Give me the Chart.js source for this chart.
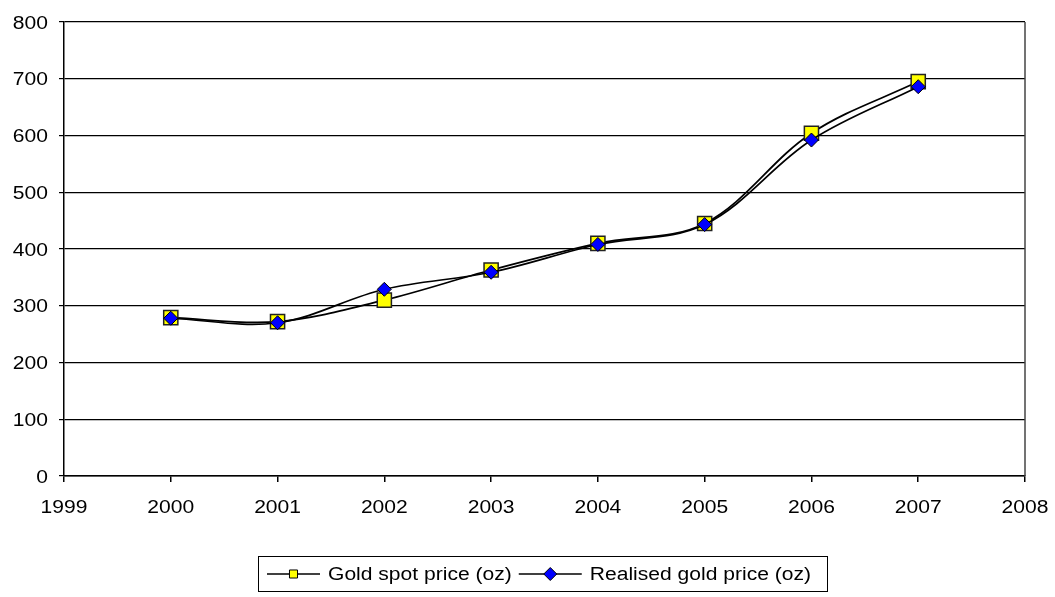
<!DOCTYPE html>
<html>
<head>
<meta charset="utf-8">
<script src="https://cdn.jsdelivr.net/npm/chart.js@4.4.0/dist/chart.umd.min.js"></script>
<style>
  html, body { margin: 0; padding: 0; background: #fff; }
  canvas { display: block; }
</style>
</head>
<body>
<canvas id="gold_Chart" width="1055" height="597"></canvas>
<script>
const years = [2000, 2001, 2002, 2003, 2004, 2005, 2006, 2007];
const spot_price = [279, 272, 310, 363, 410, 445, 604, 695];
const realised_price = [278, 270, 329, 359, 408, 443, 592, 686];
const series_labels = ['Gold spot price (oz)', 'Realised gold price (oz)'];
const x_min = 1999, x_max = 2008;
const y_min = 0, y_max = 800, y_step = 100;

const FONT = '18px "Liberation Sans", Arial, sans-serif';
const STRETCH = 1.17;

function to_points(values){
    return years.map((yr, i) => ({x: yr, y: values[i]}));
}

// labels are set a little wider than the plain face
function wide_text(ctx, text, x, y, align){
    ctx.save();
    ctx.font = FONT;
    ctx.fillStyle = '#000';
    ctx.textBaseline = 'alphabetic';
    ctx.textAlign = 'left';
    const w = ctx.measureText(text).width * STRETCH;
    let left = x;
    if (align === 'right') left = x - w;
    else if (align === 'center') left = x - w / 2;
    ctx.translate(left, y);
    ctx.scale(STRETCH, 1);
    ctx.fillText(text, 0, 0);
    ctx.restore();
    return w;
}

const labels_and_legend = {
    id: 'labels_and_legend',
    afterDraw(chart){
        const ctx = chart.ctx;
        const xs = chart.scales.x, ys = chart.scales.y;
        const area = chart.chartArea;

        ys.ticks.forEach(t => {
            wide_text(ctx, String(t.value), area.left - 16, ys.getPixelForValue(t.value) + 6.5, 'right');
        });
        xs.ticks.forEach(t => {
            wide_text(ctx, String(t.value), xs.getPixelForValue(t.value), area.bottom + 37, 'center');
        });

        // right edge of the plot frame
        ctx.save();
        ctx.strokeStyle = '#444';
        ctx.lineWidth = 1.5;
        ctx.beginPath();
        ctx.moveTo(area.right, area.top);
        ctx.lineTo(area.right, area.bottom);
        ctx.stroke();
        ctx.restore();

        // legend: line with marker, then the series name
        const box_left = 258, box_top = 556, box_bottom = 591;
        const line_y = 574, text_y = 580;
        let x = 267;
        chart.data.datasets.forEach((ds, i) => {
            const line_len = i === 0 ? 53 : 63;
            ctx.save();
            ctx.strokeStyle = '#000';
            ctx.lineWidth = 1.5;
            ctx.beginPath();
            ctx.moveTo(x, line_y);
            ctx.lineTo(x + line_len, line_y);
            ctx.stroke();
            ctx.fillStyle = ds.pointBackgroundColor;
            ctx.strokeStyle = '#000';
            ctx.lineWidth = 1;
            Chart.helpers.drawPoint(ctx, {
                pointStyle: ds.pointStyle,
                radius: ds.pointStyle === 'rect' ? 5.7 : 6.5,
                rotation: 0,
                borderWidth: 1
            }, x + line_len / 2, line_y);
            ctx.restore();
            x += line_len + 8;
            x += wide_text(ctx, ds.label, x, text_y, 'left') + 7;
        });
        ctx.save();
        ctx.strokeStyle = '#000';
        ctx.lineWidth = 1;
        ctx.strokeRect(box_left + 0.5, box_top + 0.5, 827 - box_left, box_bottom - box_top);
        ctx.restore();
    }
};

const gold_chart_canvas = document.querySelector('#gold_Chart');
const gold_chart = new Chart(gold_chart_canvas.getContext('2d'), {
    type: 'line',
    data: {
        datasets: [{
            label: series_labels[0],
            data: to_points(spot_price),
            borderColor: '#000',
            borderWidth: 1.7,
            tension: 0.35,
            pointStyle: 'rect',
            pointRadius: 10,
            pointBackgroundColor: '#ffff00',
            pointBorderColor: '#222',
            pointBorderWidth: 1.5,
            order: 1
        }, {
            label: series_labels[1],
            data: to_points(realised_price),
            borderColor: '#000',
            borderWidth: 1.7,
            tension: 0.35,
            pointStyle: 'rectRot',
            pointRadius: 7,
            pointBackgroundColor: '#0000ff',
            pointBorderColor: '#000',
            pointBorderWidth: 1,
            order: 0
        }]
    },
    options: {
        responsive: false,
        animation: false,
        events: [],
        layout: { padding: { left: 0, right: 30, top: 22, bottom: 0 } },
        plugins: {
            legend: { display: false },
            tooltip: { enabled: false }
        },
        scales: {
            x: {
                type: 'linear',
                min: x_min,
                max: x_max,
                ticks: { stepSize: 1, display: false },
                grid: { drawOnChartArea: false, color: '#000', tickLength: 6, lineWidth: 1.5 },
                border: { color: '#000', width: 1.5 },
                afterFit(scale){ scale.height = 121; }
            },
            y: {
                min: y_min,
                max: y_max,
                ticks: { stepSize: y_step, display: false },
                grid: { color: '#000', lineWidth: 1.2, tickLength: 5 },
                border: { color: '#000', width: 1.5 },
                afterFit(scale){ scale.width = 64; }
            }
        }
    },
    plugins: [labels_and_legend]
});
</script>
</body>
</html>
